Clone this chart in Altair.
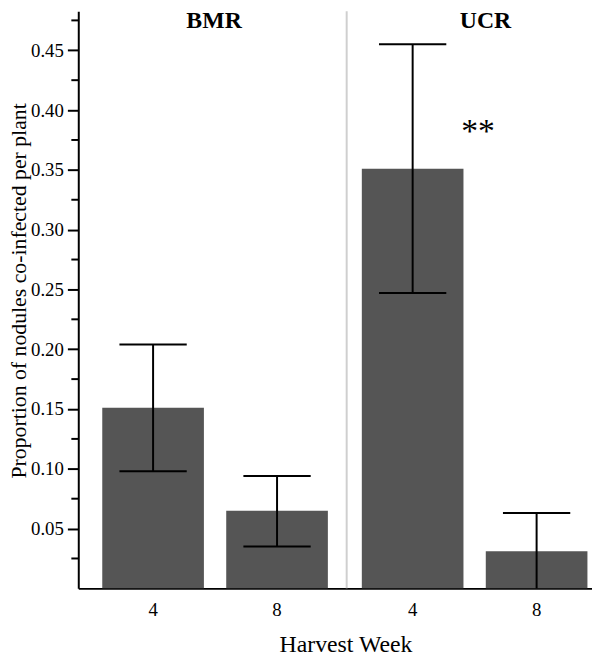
import altair as alt
import pandas as pd

# ---- data ----
groups = ["BMR", "BMR", "UCR", "UCR"]
weeks = ["4", "8", "4", "8"]
means = [0.151, 0.065, 0.351, 0.031]
lower = [0.098, 0.035, 0.247, 0.0]
upper = [0.204, 0.094, 0.455, 0.063]
signif = ["", "", "**", ""]

group_names = ["BMR", "UCR"]
y_major = [0.05, 0.10, 0.15, 0.20, 0.25, 0.30, 0.35, 0.40, 0.45]
y_minor = [0.025, 0.075, 0.125, 0.175, 0.225, 0.275, 0.325, 0.375, 0.425, 0.475]

df = pd.DataFrame({"group": groups, "week": weeks, "mean": means,
                   "lo": lower, "hi": upper, "sig": signif})
gdf = pd.DataFrame({"group": group_names})
sepdf = pd.DataFrame({"group": [group_names[0]]})
minordf = pd.DataFrame({"v": y_minor})

FONT = "Liberation Serif"
W, H = 519, 583

xscale = alt.Scale(domain=group_names, paddingInner=0.1308, paddingOuter=0.055, align=0.84)
xaxis = alt.Axis(labels=False, ticks=False, domainColor="black", domainWidth=2,
                 title="Harvest Week", titleFont=FONT, titleFontSize=24,
                 titleFontWeight="normal", titleColor="black",
                 titleX=270, titleY=57, titleBaseline="middle", titleAlign="center")
yscale = alt.Scale(domain=[0, 0.4826], nice=False)
yaxis = alt.Axis(values=y_major, format=".2f", labelOverlap=False,
                 tickSize=11, tickColor="black", tickWidth=2,
                 domainColor="black", domainWidth=2,
                 labelFont=FONT, labelFontSize=19, labelColor="black", labelPadding=4,
                 grid=False, title="Proportion of nodules co-infected per plant",
                 titleFont=FONT, titleFontSize=22, titleFontWeight="normal",
                 titleColor="black", titleX=-60, titleY=282, titleAngle=270,
                 titleBaseline="middle", titleAlign="center")

xoff = alt.XOffset("week:N", scale=alt.Scale(paddingInner=0.18, paddingOuter=0))
X = alt.X("group:N", scale=xscale, axis=xaxis)

base = alt.Chart(df)

sep = alt.Chart(sepdf).mark_rule(color="#cfcfcf", strokeWidth=2, xOffset=19).encode(
    x=alt.X("group:N", scale=xscale, axis=xaxis, bandPosition=1),
    y=alt.value(0), y2=alt.value(H))

minor = alt.Chart(minordf).mark_rule(color="black", strokeWidth=2).encode(
    y=alt.Y("v:Q", scale=yscale, axis=yaxis),
    x=alt.value(-7), x2=alt.value(0))

bars = base.mark_bar(color="#555555").encode(
    x=X, xOffset=xoff,
    y=alt.Y("mean:Q", scale=yscale, axis=yaxis))

err = base.mark_rule(color="black", strokeWidth=2).encode(
    x=X, xOffset=xoff, y="lo:Q", y2="hi:Q")

caps_hi = base.mark_tick(color="black", thickness=2, size=68, opacity=1).encode(
    x=X, xOffset=xoff, y="hi:Q")
caps_lo = base.transform_filter("datum.lo > 0").mark_tick(
    color="black", thickness=2, size=68, opacity=1).encode(
    x=X, xOffset=xoff, y="lo:Q")

week_labels = base.mark_text(font=FONT, fontSize=19, color="black", baseline="middle").encode(
    x=X, xOffset=xoff, y=alt.value(H + 22), text="week:N")

lab_bmr = alt.Chart(gdf).transform_filter("datum.group == 'BMR'").mark_text(
    font=FONT, fontSize=24, fontWeight="bold", color="black", baseline="middle", dx=-1).encode(
    x=X, y=alt.value(10), text="group:N")
lab_ucr = alt.Chart(gdf).transform_filter("datum.group == 'UCR'").mark_text(
    font=FONT, fontSize=24, fontWeight="bold", color="black", baseline="middle", dx=11).encode(
    x=X, y=alt.value(10), text="group:N")

stars = base.transform_filter("datum.sig != ''").mark_text(
    font=FONT, fontSize=34, color="black", baseline="middle", dx=66, dy=-37).encode(
    x=X, xOffset=xoff, y="mean:Q", text="sig:N")

chart = alt.layer(sep, minor, bars, err, caps_hi, caps_lo, week_labels, lab_bmr, lab_ucr, stars).properties(
    width=W, height=H,
    autosize=alt.AutoSizeParams(type="none"),
    padding={"left": 71, "top": 0, "right": 0, "bottom": 66},
    background="white",
).configure_view(stroke=None)

chart.save("out.html", embed_options={"renderer": "svg", "actions": False})
